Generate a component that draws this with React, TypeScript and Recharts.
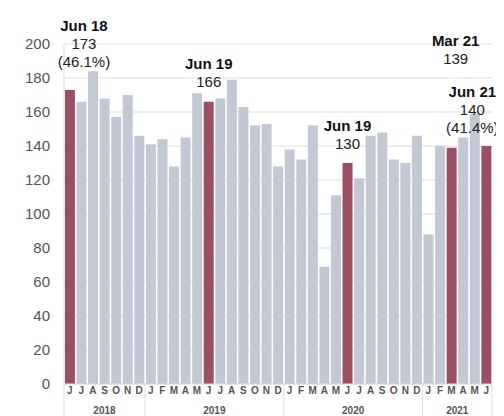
import React from 'react';
import { BarChart, Bar, XAxis, YAxis, CartesianGrid, Cell, LabelList } from 'recharts';

// monthly periods, Jun 2018 .. Jun 2021
const periods = [
    'Jun 18', 'Jul 18', 'Aug 18', 'Sep 18', 'Oct 18', 'Nov 18', 'Dec 18',
    'Jan 19', 'Feb 19', 'Mar 19', 'Apr 19', 'May 19', 'Jun 19', 'Jul 19', 'Aug 19', 'Sep 19', 'Oct 19', 'Nov 19', 'Dec 19',
    'Jan 20', 'Feb 20', 'Mar 20', 'Apr 20', 'May 20', 'Jun 20', 'Jul 20', 'Aug 20', 'Sep 20', 'Oct 20', 'Nov 20', 'Dec 20',
    'Jan 21', 'Feb 21', 'Mar 21', 'Apr 21', 'May 21', 'Jun 21'
];

const values = [
    173, 166, 184, 168, 157, 170, 146,
    141, 144, 128, 145, 171, 166, 168, 179, 163, 152, 153, 128,
    138, 132, 152, 69, 111, 130, 121, 146, 148, 132, 130, 146,
    88, 140, 139, 145, 159, 140
];

const yTicks = [0, 20, 40, 60, 80, 100, 120, 140, 160, 180, 200];

// highlighted bars and their notes
const noteBars = ['Jun 18', 'Jun 19', 'Jun 20', 'Mar 21', 'Jun 21'];
const noteTitles = ['Jun 18', 'Jun 19', 'Jun 19', 'Mar 21', 'Jun 21'];
const noteShares = ['(46.1%)', '', '', '', '(41.4%)'];

// where each note sits relative to its bar top
const noteLayout = [
    { dx: 14, lift: 28 },
    { dx: 0, lift: 20 },
    { dx: 0, lift: 20 },
    { dx: 4, lift: 89 },
    { dx: -14, lift: 19 }
];

const data = periods.map((period, i) => ({ period, value: values[i] }));

const GREY = '#c2c9d5';
const RED = '#9b4f63';
const FONT = '"Liberation Sans", Arial, sans-serif';

const yearOf = (p: string) => '20' + p.slice(-2);

function MonthTick(props: any) {
    const { x, y, payload } = props;
    const half = payload.offset ?? 5.79;
    const idx = periods.indexOf(payload.value);
    const period = periods[idx];
    const year = yearOf(period);
    const firstOfYear = idx === 0 || yearOf(periods[idx - 1]) !== year;
    const last = idx === periods.length - 1;
    const count = periods.filter((p) => yearOf(p) === year).length;
    return (
        <g>
            <text
                x={x}
                y={y + 6}
                textAnchor="middle"
                dominantBaseline="central"
                fontSize={10}
                fontWeight={700}
                fill="#555"
                fontFamily={FONT}
            >
                {period[0]}
            </text>
            {firstOfYear && (
                <>
                    <line x1={x - half} x2={x - half} y1={y} y2={y + 60} stroke="#ddd" />
                    <text
                        x={x - half + count * half}
                        y={y + 26}
                        textAnchor="middle"
                        dominantBaseline="central"
                        fontSize={10}
                        fontWeight={700}
                        fill="#555"
                        fontFamily={FONT}
                    >
                        {year}
                    </text>
                </>
            )}
            {last && <line x1={x + half} x2={x + half} y1={y} y2={y + 60} stroke="#ddd" />}
        </g>
    );
}

function NoteLabel(props: any) {
    const vb = props.viewBox || {};
    const x = props.x ?? vb.x;
    const y = props.y ?? vb.y;
    const width = props.width ?? vb.width;
    const k = noteBars.indexOf(props.value);
    if (k < 0) return null;
    const idx = periods.indexOf(props.value);
    const lines = [noteTitles[k], String(values[idx]), noteShares[k]].filter(Boolean);
    const cx = x + width / 2 + noteLayout[k].dx;
    const bottom = y - noteLayout[k].lift;
    return (
        <g>
            {lines.map((t, j) => (
                <text
                    key={j}
                    x={cx}
                    y={bottom - (lines.length - 1 - j) * 18}
                    textAnchor="middle"
                    dominantBaseline="central"
                    fontSize={15}
                    fontWeight={j === 0 ? 700 : 400}
                    fill={j === 0 ? '#111' : '#222'}
                    fontFamily={FONT}
                >
                    {t}
                </text>
            ))}
        </g>
    );
}

export default function App() {
    return (
        <div style={{ width: 496, height: 408, overflow: 'hidden' }}>
            <BarChart
                width={496}
                height={430}
                data={data}
                margin={{ top: 36, right: 12, left: 0, bottom: 0 }}
                barCategoryGap="8%"
            >
                <CartesianGrid vertical={false} stroke="#ddd" />
                <YAxis
                    domain={[0, 200]}
                    ticks={yTicks}
                    width={56}
                    axisLine={{ stroke: '#ddd' }}
                    tickLine={false}
                    tickSize={0}
                    tickMargin={14}
                    tick={{ fill: '#555', fontSize: 15, fontFamily: FONT }}
                />
                <XAxis
                    dataKey="period"
                    interval={0}
                    height={54}
                    axisLine={{ stroke: '#ddd' }}
                    tickLine={false}
                    tickSize={0}
                    tickMargin={0}
                    tick={<MonthTick />}
                />
                <Bar dataKey="value" isAnimationActive={false}>
                    {data.map((d) => (
                        <Cell key={d.period} fill={noteBars.includes(d.period) ? RED : GREY} />
                    ))}
                    <LabelList dataKey="period" content={<NoteLabel />} />
                </Bar>
            </BarChart>
        </div>
    );
}
